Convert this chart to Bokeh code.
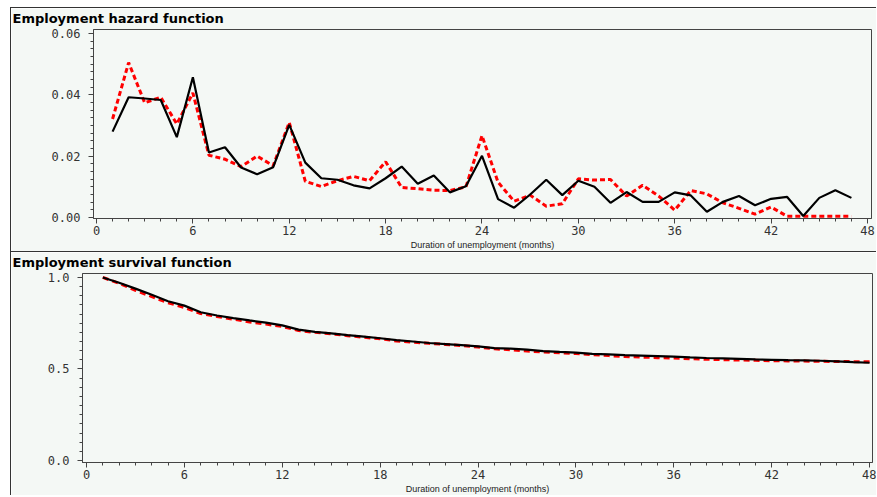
from bokeh.plotting import figure
from bokeh.models import Range1d, PrintfTickFormatter, FixedTicker
from bokeh.embed import file_html
from bokeh.resources import INLINE

# ---------------- data ----------------
months_h = list(range(1, 48))
hazard_black = [0.0280, 0.0392, 0.0388, 0.0383, 0.0262, 0.0457, 0.0212, 0.0229, 0.0163, 0.0141,
                0.0164, 0.0302, 0.0179, 0.0128, 0.0123, 0.0105, 0.0095, 0.0128, 0.0166, 0.0110,
                0.0137, 0.0082, 0.0102, 0.0201, 0.0060, 0.0032, 0.0075, 0.0123, 0.0073, 0.0120,
                0.0100, 0.0048, 0.0083, 0.0051, 0.0051, 0.0082, 0.0072, 0.0019, 0.0051, 0.0070,
                0.0040, 0.0061, 0.0067, 0.0005, 0.0064, 0.0089, 0.0064]
hazard_red = [0.0321, 0.0505, 0.0374, 0.0392, 0.0305, 0.0406, 0.0203, 0.0190, 0.0166, 0.0200,
              0.0169, 0.0310, 0.0118, 0.0101, 0.0120, 0.0134, 0.0120, 0.0182, 0.0098, 0.0094,
              0.0089, 0.0088, 0.0100, 0.0267, 0.0115, 0.0053, 0.0073, 0.0037, 0.0045, 0.0126,
              0.0122, 0.0124, 0.0070, 0.0105, 0.0070, 0.0024, 0.0088, 0.0077, 0.0048, 0.0030,
              0.0011, 0.0034, 0.0004, 0.0004, 0.0004, 0.0004, 0.0004]

months_s = list(range(1, 49))
surv_black = [1.000, 0.971, 0.939, 0.905, 0.870, 0.846, 0.810, 0.792, 0.778, 0.765,
              0.753, 0.738, 0.715, 0.703, 0.694, 0.685, 0.677, 0.668, 0.658, 0.650,
              0.642, 0.636, 0.630, 0.623, 0.614, 0.611, 0.606, 0.598, 0.593, 0.589,
              0.583, 0.580, 0.576, 0.573, 0.570, 0.567, 0.563, 0.560, 0.558, 0.555,
              0.552, 0.550, 0.548, 0.547, 0.545, 0.542, 0.537, 0.534]
surv_red = [1.000, 0.968, 0.930, 0.895, 0.862, 0.836, 0.803, 0.787, 0.772, 0.757,
            0.745, 0.732, 0.710, 0.700, 0.692, 0.682, 0.673, 0.665, 0.653, 0.647,
            0.640, 0.634, 0.628, 0.620, 0.610, 0.605, 0.598, 0.593, 0.589, 0.584,
            0.578, 0.573, 0.568, 0.565, 0.562, 0.560, 0.556, 0.553, 0.551, 0.549,
            0.547, 0.545, 0.544, 0.543, 0.542, 0.541, 0.540, 0.539]

x_ticks = [0, 6, 12, 18, 24, 30, 36, 42, 48]
y_ticks_hazard = [0.0, 0.02, 0.04, 0.06]
y_ticks_surv = [0.0, 0.5, 1.0]

x_label = "Duration of unemployment (months)"
title_hazard = "Employment hazard function"
title_surv = "Employment survival function"

# ---------------- styling ----------------
BG = "#f4f8f5"
AX = "#444444"
TICK_FONT = "DejaVu Sans Mono"


def style(p, yfmt, b_left):
    p.background_fill_color = BG
    p.border_fill_color = BG
    p.outline_line_color = AX
    p.outline_line_width = 1
    p.xgrid.visible = False
    p.ygrid.visible = False
    p.title.text_font = "DejaVu Sans"
    p.title.text_font_size = "13px"
    p.title.text_font_style = "bold"
    p.title.text_color = "#000000"
    p.title.align = "left"
    p.title.vertical_align = "top"
    p.title.standoff = 3
    p.title.offset = -b_left + 1
    for ax in (p.xaxis[0], p.yaxis[0]):
        ax.axis_line_color = AX
        ax.major_tick_line_color = AX
        ax.minor_tick_line_color = AX
        ax.major_tick_in = 0
        ax.minor_tick_in = 0
        ax.major_tick_out = 5
        ax.minor_tick_out = 3
        ax.major_label_text_font = TICK_FONT
        ax.major_label_text_font_size = "12px"
        ax.major_label_text_color = "#333333"
    xa = p.xaxis[0]
    xa.ticker = FixedTicker(ticks=x_ticks, minor_ticks=list(range(0, 49)))
    xa.formatter = PrintfTickFormatter(format="%d")
    xa.major_label_standoff = 2
    xa.axis_label = x_label
    xa.axis_label_text_font = "Liberation Sans"
    xa.axis_label_text_font_size = "9px"
    xa.axis_label_text_font_style = "normal"
    xa.axis_label_text_color = "#222222"
    xa.axis_label_standoff = 2
    ya = p.yaxis[0]
    ya.formatter = PrintfTickFormatter(format=yfmt)
    ya.major_label_standoff = 8
    p.styles = {"border-top": "1px solid #333", "border-left": "1px solid #333"}


# ---------------- hazard panel ----------------
p1 = figure(width=866, height=244, output_backend="svg", toolbar_location=None,
            x_range=Range1d(-0.187, 48.25), y_range=Range1d(-0.00032, 0.06128),
            min_border_left=82, min_border_right=6, min_border_top=21, min_border_bottom=31,
            title=title_hazard)
style(p1, "%.2f", 82)
p1.yaxis[0].ticker = FixedTicker(ticks=y_ticks_hazard,
                                 minor_ticks=[i * 0.0025 for i in range(0, 25)])
p1.line(months_h, hazard_red, line_color="#ff0000", line_width=3, line_dash="5 3")
p1.line(months_h, hazard_black, line_color="#000000", line_width=2.2)
p1.margin = (7, 0, 0, 10)

# ---------------- survival panel ----------------
p2 = figure(width=866, height=244, output_backend="svg", toolbar_location=None,
            x_range=Range1d(-0.245, 48.18), y_range=Range1d(-0.0108, 1.0215),
            min_border_left=71, min_border_right=5, min_border_top=21, min_border_bottom=31,
            title=title_surv)
style(p2, "%.1f", 71)
p2.yaxis[0].ticker = FixedTicker(ticks=y_ticks_surv,
                                 minor_ticks=[i * 0.05 for i in range(0, 21)])
p2.line(months_s, surv_red, line_color="#ff0000", line_width=3, line_dash="6 4")
p2.line(months_s, surv_black, line_color="#000000", line_width=2.2)
p2.margin = (0, 0, 0, 10)

open("out.html", "w").write(file_html([p1, p2], INLINE))
